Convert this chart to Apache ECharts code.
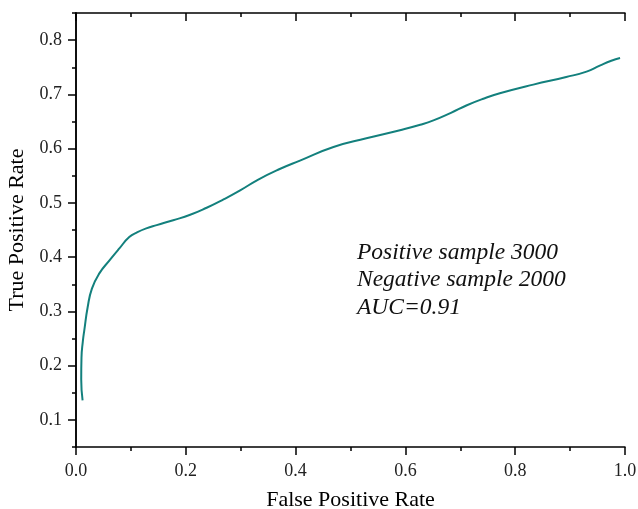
<!DOCTYPE html>
<html>
<head>
<meta charset="utf-8">
<script src="https://cdn.jsdelivr.net/npm/echarts@6/dist/echarts.min.js"></script>
<style>html,body{margin:0;padding:0;background:#fff}#c{width:638px;height:509px}</style>
</head>
<body>
<div id="c"></div>
<script>
// ROC curve values
const fpr = [0.012, 0.0095, 0.0100, 0.0125, 0.0151, 0.0213, 0.029, 0.0425, 0.061, 0.079, 0.097, 0.112, 0.128, 0.147, 0.177, 0.208, 0.238, 0.268, 0.299, 0.332, 0.370, 0.408, 0.469, 0.529, 0.590, 0.627, 0.651, 0.683, 0.712, 0.742, 0.772, 0.833, 0.893, 0.930, 0.954, 0.975, 0.991];
const tpr = [0.136, 0.175, 0.215, 0.245, 0.265, 0.308, 0.342, 0.370, 0.394, 0.416, 0.437, 0.446, 0.453, 0.459, 0.468, 0.478, 0.491, 0.506, 0.523, 0.543, 0.562, 0.578, 0.603, 0.619, 0.634, 0.644, 0.652, 0.666, 0.680, 0.692, 0.702, 0.718, 0.732, 0.742, 0.753, 0.762, 0.767];
const yMajor = [0.1, 0.2, 0.3, 0.4, 0.5, 0.6, 0.7, 0.8];
const yMinor = [0.05, 0.15, 0.25, 0.35, 0.45, 0.55, 0.65, 0.75, 0.85];
const xMajor = [0, 0.2, 0.4, 0.6, 0.8, 1.0];
const xMinor = [0.1, 0.3, 0.5, 0.7, 0.9];
const noteLines = ['Positive sample 3000', 'Negative sample 2000', 'AUC=0.91'];

const FONT = '"Liberation Serif", "DejaVu Serif", serif';
const axisColor = '#000';
const lineStyle = { color: axisColor, width: 1.5 };

const chart = echarts.init(document.getElementById('c'), null, { renderer: 'canvas' });
const grid = { left: 76, right: 13, top: 13, bottom: 62, containLabel: false, outerBoundsMode: 'none' };

const baseX = { type: 'value', min: 0, max: 1, splitLine: { show: false }, gridIndex: 0 };
const baseY = { type: 'value', min: 0.05, max: 0.85, splitLine: { show: false }, gridIndex: 0 };

const option = {
  animation: false,
  backgroundColor: '#fff',
  grid: grid,
  xAxis: [
    Object.assign({}, baseX, {
      position: 'bottom',
      name: 'False Positive Rate',
      nameLocation: 'middle',
      nameGap: 42,
      nameTextStyle: { fontFamily: FONT, fontSize: 22, color: '#000' },
      axisLine: { show: true, lineStyle: lineStyle },
      axisTick: { show: true, length: 8, inside: false, customValues: xMajor, lineStyle: lineStyle },
      axisLabel: { show: true, customValues: xMajor, margin: 15, fontFamily: FONT, fontSize: 18, color: '#222',
        formatter: v => v.toFixed(1) }
    }),
    Object.assign({}, baseX, {
      position: 'bottom',
      axisLine: { show: false },
      axisTick: { show: true, length: 4, inside: false, customValues: xMinor, lineStyle: lineStyle },
      axisLabel: { show: false }
    }),
    Object.assign({}, baseX, {
      position: 'top',
      axisLine: { show: true, lineStyle: lineStyle },
      axisTick: { show: true, length: 8, inside: true, customValues: xMajor, lineStyle: lineStyle },
      axisLabel: { show: false }
    }),
    Object.assign({}, baseX, {
      position: 'top',
      axisLine: { show: false },
      axisTick: { show: true, length: 4, inside: true, customValues: xMinor, lineStyle: lineStyle },
      axisLabel: { show: false }
    })
  ],
  yAxis: [
    Object.assign({}, baseY, {
      position: 'left',
      name: 'True Positive Rate',
      nameLocation: 'middle',
      nameGap: 46,
      nameRotate: 90,
      nameTextStyle: { fontFamily: FONT, fontSize: 22, color: '#000' },
      axisLine: { show: true, lineStyle: lineStyle },
      axisTick: { show: true, length: 8, inside: false, customValues: yMajor, lineStyle: lineStyle },
      axisLabel: { show: true, customValues: yMajor, margin: 14, fontFamily: FONT, fontSize: 18, color: '#222',
        formatter: v => v.toFixed(1) }
    }),
    Object.assign({}, baseY, {
      position: 'left',
      axisLine: { show: false },
      axisTick: { show: true, length: 4, inside: false, customValues: yMinor, lineStyle: lineStyle },
      axisLabel: { show: false }
    }),
    Object.assign({}, baseY, {
      position: 'right',
      axisLine: { show: true, lineStyle: lineStyle },
      axisTick: { show: true, length: 8, inside: true, customValues: yMajor, lineStyle: lineStyle },
      axisLabel: { show: false }
    }),
    Object.assign({}, baseY, {
      position: 'right',
      axisLine: { show: false },
      axisTick: { show: true, length: 4, inside: true, customValues: yMinor, lineStyle: lineStyle },
      axisLabel: { show: false }
    })
  ],
  series: [{
    type: 'line',
    xAxisIndex: 0,
    yAxisIndex: 0,
    data: fpr.map((x, i) => [x, tpr[i]]),
    smooth: 0.5,
    showSymbol: false,
    symbol: 'none',
    lineStyle: { color: '#13807d', width: 2 },
    clip: true
  }],
  graphic: noteLines.map((t, i) => ({
    type: 'text',
    left: 357,
    top: 241 + i * 27.5,
    style: { text: t, font: 'italic 23.5px "Liberation Serif", serif', fill: '#111' }
  }))
};
chart.setOption(option);
</script>
</body>
</html>
